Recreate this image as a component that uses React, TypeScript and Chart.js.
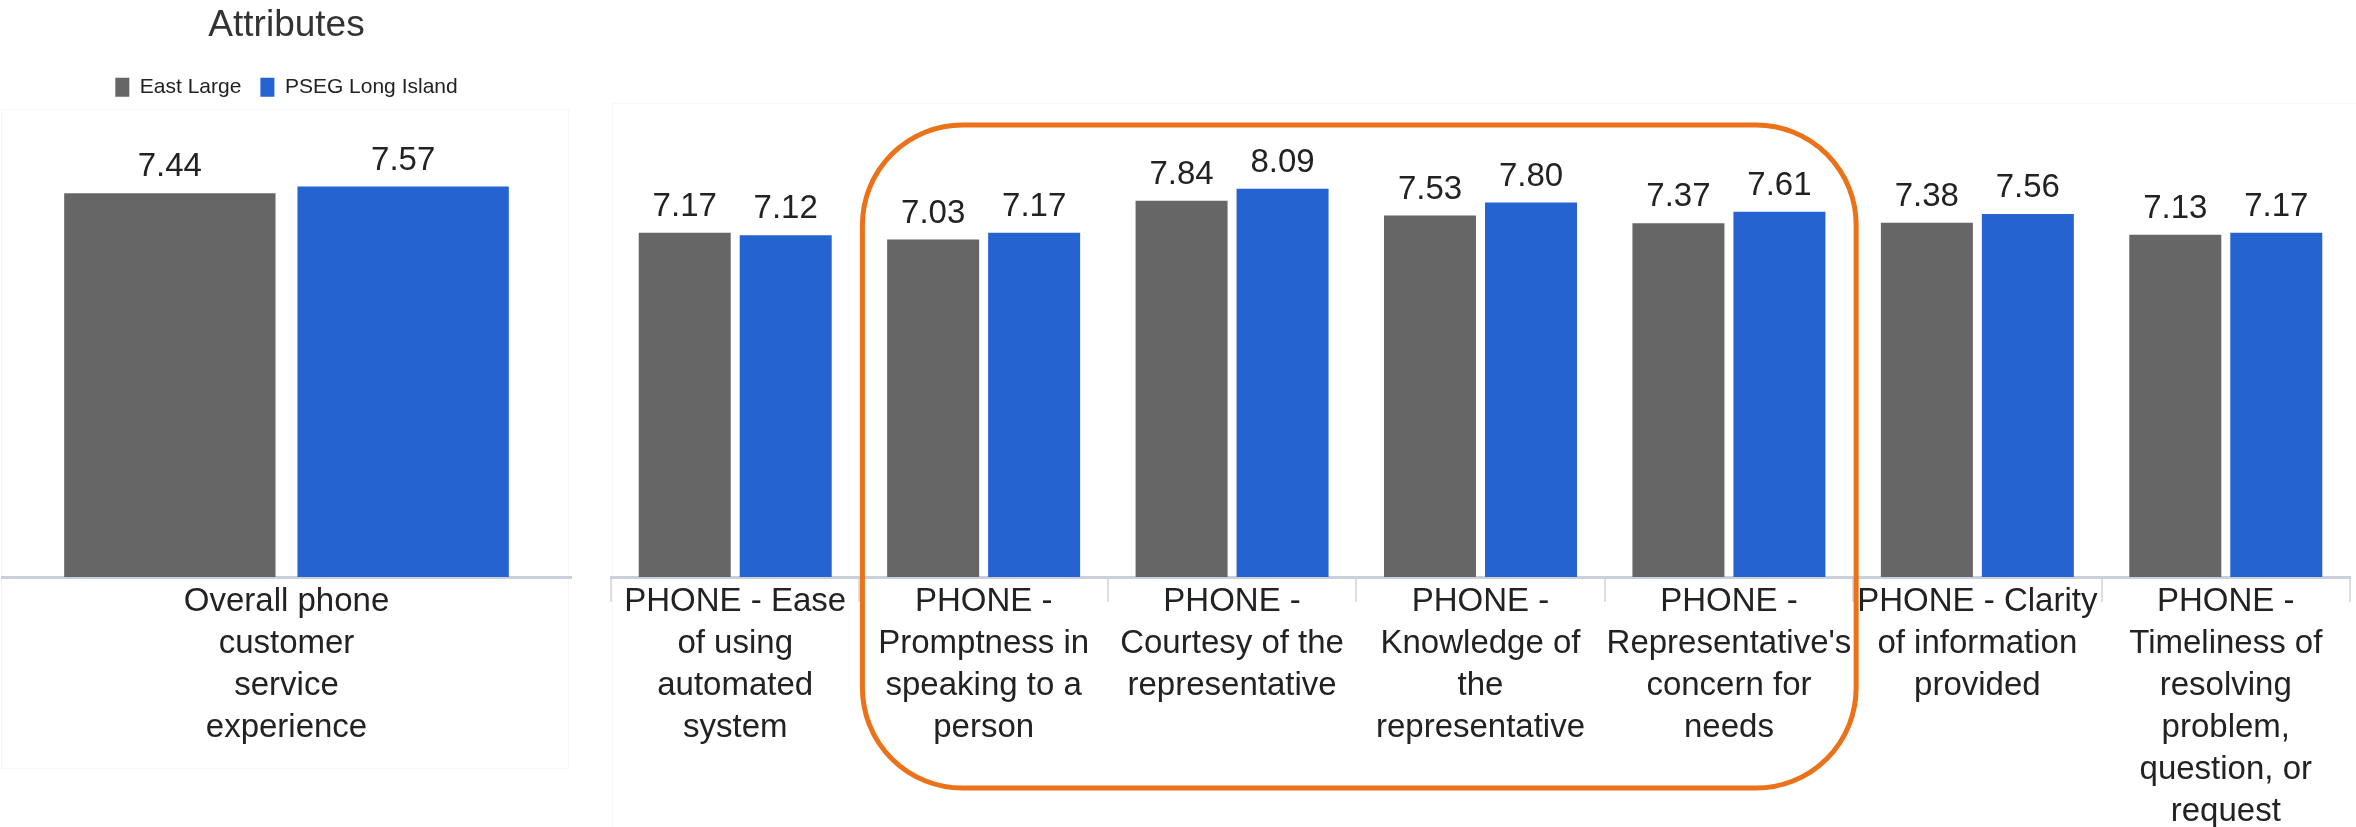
import React, { useEffect, useRef } from "react";
import { Chart, registerables } from "chart.js";

Chart.register(...registerables);

// ---- data ----
const seriesNames = ["East Large", "PSEG Long Island"];

const overallCategories = [["Overall phone", "customer", "service", "experience"]];
const overallEast = [7.44];
const overallPseg = [7.57];

const attributeCategories = [
  ["PHONE - Ease", "of using", "automated", "system"],
  ["PHONE -", "Promptness in", "speaking to a", "person"],
  ["PHONE -", "Courtesy of the", "representative"],
  ["PHONE -", "Knowledge of", "the", "representative"],
  ["PHONE -", "Representative's", "concern for", "needs"],
  ["PHONE - Clarity", "of information", "provided"],
  ["PHONE -", "Timeliness of", "resolving", "problem,", "question, or", "request"],
];
const attributeEast = [7.17, 7.03, 7.84, 7.53, 7.37, 7.38, 7.13];
const attributePseg = [7.12, 7.17, 8.09, 7.8, 7.61, 7.56, 7.17];

// first and last category index inside the orange frame
const highlightedRange = [1, 4];

const chartTitle = "Attributes";

// ---- styling ----
const FONT = "'Liberation Sans', Arial, Helvetica, sans-serif";
const GRAY = "#666666";
const BLUE = "#2563D1";
const TEXT = "#222222";
const AXIS = "#c9d0dc";
const ORANGE = "#EC7219";

Chart.defaults.font.family = FONT;
Chart.defaults.color = TEXT;

const valueLabels = {
  id: "valueLabels",
  afterDatasetsDraw(chart: any) {
    const ctx = chart.ctx;
    ctx.save();
    ctx.font = `33px ${FONT}`;
    ctx.fillStyle = TEXT;
    ctx.textAlign = "center";
    ctx.textBaseline = "alphabetic";
    chart.data.datasets.forEach((ds: any, i: number) => {
      const meta = chart.getDatasetMeta(i);
      meta.data.forEach((bar: any, j: number) => {
        const v = ds.data[j] as number;
        ctx.fillText(v.toFixed(2), bar.x, bar.y - 17);
      });
    });
    ctx.restore();
  },
};

const highlightFrame = {
  id: "highlightFrame",
  afterDraw(chart: any) {
    const ctx = chart.ctx;
    const x = chart.scales.x;
    const step = x.width / attributeCategories.length;
    const left = x.getPixelForValue(highlightedRange[0]) - step / 2 + 3;
    const right = x.getPixelForValue(highlightedRange[1]) + step / 2 + 3;
    const top = chart.chartArea.top + 28;
    const bottom = chart.height - 39;
    ctx.save();
    ctx.strokeStyle = ORANGE;
    ctx.lineWidth = 5;
    ctx.beginPath();
    ctx.roundRect(left, top, right - left, bottom - top, 100);
    ctx.stroke();
    ctx.restore();
  },
};

function xAxis(showSeparators: boolean) {
  return {
    offset: true,
    afterFit(scale: any) {
      scale.height = 250;
    },
    border: { display: true, color: AXIS, width: 3 },
    grid: {
      display: showSeparators,
      drawOnChartArea: false,
      drawTicks: true,
      tickLength: 25,
      color: "#dedede",
      lineWidth: 2,
      offset: true,
    },
    ticks: {
      autoSkip: false,
      maxRotation: 0,
      minRotation: 0,
      padding: -21,
      color: TEXT,
      font: { family: FONT, size: 33, lineHeight: 42 / 33 },
    },
  };
}

function OverallChart() {
  const ref = useRef<HTMLCanvasElement | null>(null);
  useEffect(() => {
    if (!ref.current) return;
    const chart = new Chart(ref.current, {
      type: "bar",
      data: {
        labels: overallCategories,
        datasets: [
          { label: seriesNames[0], data: overallEast, backgroundColor: GRAY, borderWidth: 0 },
          { label: seriesNames[1], data: overallPseg, backgroundColor: BLUE, borderWidth: 0 },
        ],
      },
      options: {
        animation: false,
        responsive: false,
        devicePixelRatio: 1,
        layout: { padding: { left: 2, right: 4, top: 0, bottom: 0 } },
        datasets: { bar: { categoryPercentage: 0.82, barPercentage: 0.906 } },
        scales: {
          x: xAxis(false) as any,
          y: { display: false, min: 0, max: 9.1 },
        },
        plugins: {
          tooltip: { enabled: false },
          title: {
            display: true,
            text: chartTitle,
            color: "#333333",
            font: { family: FONT, size: 37, weight: "normal", lineHeight: 1.1 },
            padding: { top: 5, bottom: 12 },
          },
          legend: {
            display: true,
            position: "top",
            labels: {
              boxWidth: 14,
              boxHeight: 19,
              padding: 19,
              color: TEXT,
              font: { family: FONT, size: 21 },
            },
          },
        },
      },
      plugins: [valueLabels],
    });
    return () => chart.destroy();
  }, []);
  return (
    <canvas
      ref={ref}
      width={575}
      height={827}
      style={{ position: "absolute", left: 0, top: 0, width: 575, height: 827 }}
    />
  );
}

function AttributeChart() {
  const ref = useRef<HTMLCanvasElement | null>(null);
  useEffect(() => {
    if (!ref.current) return;
    const chart = new Chart(ref.current, {
      type: "bar",
      data: {
        labels: attributeCategories,
        datasets: [
          { label: seriesNames[0], data: attributeEast, backgroundColor: GRAY, borderWidth: 0 },
          { label: seriesNames[1], data: attributePseg, backgroundColor: BLUE, borderWidth: 0 },
        ],
      },
      options: {
        animation: false,
        responsive: false,
        devicePixelRatio: 1,
        layout: { padding: { left: 11, right: 6, top: 97, bottom: 0 } },
        datasets: { bar: { categoryPercentage: 0.813, barPercentage: 0.911 } },
        scales: {
          x: xAxis(true) as any,
          y: { display: false, min: 0, max: 10 },
        },
        plugins: {
          tooltip: { enabled: false },
          legend: { display: false },
          title: { display: false },
        },
      },
      plugins: [valueLabels, highlightFrame],
    });
    return () => chart.destroy();
  }, []);
  return (
    <canvas
      ref={ref}
      width={1756}
      height={827}
      style={{ position: "absolute", left: 600, top: 0, width: 1756, height: 827 }}
    />
  );
}

export default function App() {
  return (
    <div
      style={{
        position: "absolute",
        left: 0,
        top: 0,
        width: 2356,
        height: 827,
        overflow: "hidden",
        background: "#ffffff",
      }}
    >
      {/* faint panel outlines */}
      <div
        style={{
          position: "absolute",
          left: 1,
          top: 109,
          width: 566,
          height: 658,
          border: "1px solid #f7f7f7",
        }}
      />
      <div
        style={{
          position: "absolute",
          left: 612,
          top: 103,
          width: 1750,
          height: 740,
          border: "1px solid #f7f7f7",
        }}
      />
      <OverallChart />
      <AttributeChart />
    </div>
  );
}
